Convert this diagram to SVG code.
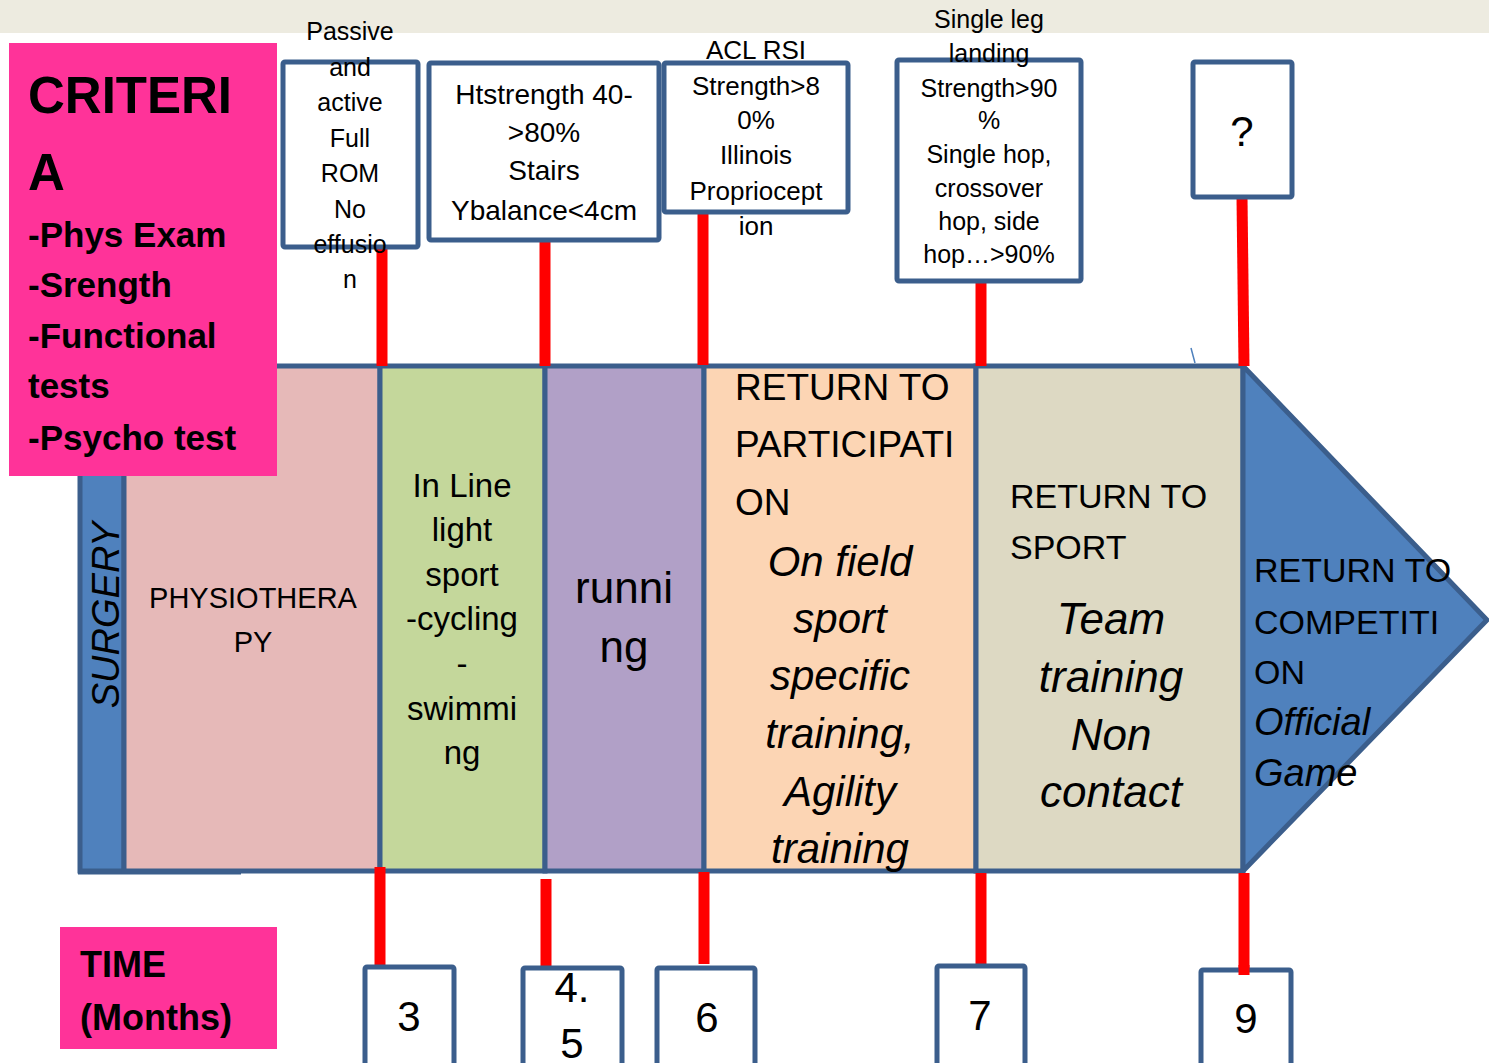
<svg xmlns="http://www.w3.org/2000/svg" width="1489" height="1063" viewBox="0 0 1489 1063">
<style>
text{font-family:"Liberation Sans",Arial,sans-serif;fill:#000}
.c{text-anchor:middle}
.b{font-weight:bold}
.i{font-style:italic}
.col{stroke:#3B5E8C;stroke-width:5}
.box{fill:#fff;stroke:#3B5E8C;stroke-width:5}
.red{stroke:#FF0000;stroke-width:11;fill:none}
</style>
<rect x="0" y="0" width="1489" height="33" fill="#EDEBE0"/>
<g id="band">
<rect id="surgery-col" class="col" x="80" y="366" width="44" height="505" fill="#4F81BD"/>
<line x1="78" y1="872" x2="241" y2="872" stroke="#3B5E8C" stroke-width="5"/>
<rect id="physio-col" class="col" x="124" y="366" width="256" height="505" fill="#E6B9B8"/>
<rect id="light-col" class="col" x="380" y="366" width="165" height="505" fill="#C4D79B"/>
<rect id="run-col" class="col" x="545" y="366" width="159" height="505" fill="#B1A0C7"/>
<rect id="rtp-col" class="col" x="704" y="366" width="272" height="505" fill="#FCD5B4"/>
<rect id="rts-col" class="col" x="976" y="366" width="267" height="505" fill="#DDD9C3"/>
<polygon id="rtc-arrow" class="col" points="1243,366 1487,620 1243,871" fill="#4F81BD"/>
<line x1="1191" y1="348" x2="1195" y2="363" stroke="#4F81BD" stroke-width="1.5"/>
</g>
<g id="connectors">
<line class="red" x1="382" y1="248" x2="382" y2="366"/>
<line class="red" x1="545" y1="240" x2="545" y2="366"/>
<line class="red" x1="703" y1="212" x2="703" y2="365"/>
<line class="red" x1="981" y1="282" x2="981" y2="366"/>
<line class="red" x1="1242" y1="197" x2="1244" y2="366"/>
<line class="red" x1="380" y1="867" x2="380" y2="966"/>
<line class="red" x1="546" y1="879" x2="546" y2="967"/>
<line class="red" x1="704" y1="872" x2="704" y2="964"/>
<line class="red" x1="981" y1="873" x2="981" y2="966"/>
<line class="red" x1="1244" y1="873" x2="1244" y2="975"/>
</g>
<g id="surgery-label"><text class="c i" font-size="38" transform="translate(119,615) rotate(-90)">SURGERY</text></g>
<g id="physio-label"><text class="c" font-size="29"><tspan x="253" y="608">PHYSIOTHERA</tspan><tspan x="253" y="652">PY</tspan></text></g>
<g id="light-label"><text class="c" font-size="33"><tspan x="462" y="497">In Line</tspan><tspan x="462" y="541">light</tspan><tspan x="462" y="586">sport</tspan><tspan x="462" y="630">-cycling</tspan><tspan x="462" y="675">-</tspan><tspan x="462" y="720">swimmi</tspan><tspan x="462" y="764">ng</tspan></text></g>
<g id="run-label"><text class="c" font-size="44"><tspan x="624" y="603">runni</tspan><tspan x="624" y="662">ng</tspan></text></g>
<g id="rtp-label"><text font-size="37"><tspan x="735" y="400">RETURN TO</tspan><tspan x="735" y="457">PARTICIPATI</tspan><tspan x="735" y="515">ON</tspan></text>
<text class="c i" font-size="42"><tspan x="840" y="576">On field</tspan><tspan x="840" y="633">sport</tspan><tspan x="840" y="690">specific</tspan><tspan x="840" y="748">training,</tspan><tspan x="840" y="806">Agility</tspan><tspan x="840" y="863">training</tspan></text></g>
<g id="rts-label"><text font-size="34"><tspan x="1010" y="508">RETURN TO</tspan><tspan x="1010" y="559">SPORT</tspan></text>
<text class="c i" font-size="44"><tspan x="1111" y="634">Team</tspan><tspan x="1111" y="692">training</tspan><tspan x="1111" y="750">Non</tspan><tspan x="1111" y="807">contact</tspan></text></g>
<g id="rtc-label"><text font-size="34"><tspan x="1254" y="582">RETURN TO</tspan><tspan x="1254" y="634">COMPETITI</tspan><tspan x="1254" y="684">ON</tspan></text>
<text class="i" font-size="38"><tspan x="1254" y="735">Official</tspan><tspan x="1254" y="786">Game</tspan></text></g>
<g id="criteria">
<rect x="9" y="43" width="268" height="433" fill="#FF3399"/>
<text class="b" font-size="51"><tspan x="28" y="113">CRITERI</tspan><tspan x="28" y="190">A</tspan></text>
<text class="b" font-size="35"><tspan x="28" y="247">-Phys Exam</tspan><tspan x="28" y="297">-Srength</tspan><tspan x="28" y="348">-Functional</tspan><tspan x="28" y="398">tests</tspan><tspan x="28" y="450">-Psycho test</tspan></text>
</g>
<g id="crit-3">
<rect class="box" x="283" y="62" width="135" height="185" rx="2"/>
<text class="c" font-size="25"><tspan x="350" y="40">Passive</tspan><tspan x="350" y="76">and</tspan><tspan x="350" y="111">active</tspan><tspan x="350" y="147">Full</tspan><tspan x="350" y="182">ROM</tspan><tspan x="350" y="218">No</tspan><tspan x="350" y="253">effusio</tspan><tspan x="350" y="288">n</tspan></text>
</g>
<g id="crit-45">
<rect class="box" x="429" y="63" width="230" height="177" rx="2"/>
<text class="c" font-size="28"><tspan x="544" y="104">Htstrength 40-</tspan><tspan x="544" y="142">&gt;80%</tspan><tspan x="544" y="180">Stairs</tspan><tspan x="544" y="220">Ybalance&lt;4cm</tspan></text>
</g>
<g id="crit-6">
<rect class="box" x="664" y="63" width="184" height="149" rx="2"/>
<text class="c" font-size="26"><tspan x="756" y="59">ACL RSI</tspan><tspan x="756" y="95">Strength&gt;8</tspan><tspan x="756" y="129">0%</tspan><tspan x="756" y="164">Illinois</tspan><tspan x="756" y="200">Propriocept</tspan><tspan x="756" y="235">ion</tspan></text>
</g>
<g id="crit-7">
<rect class="box" x="897" y="60" width="184" height="221" rx="2"/>
<text class="c" font-size="25"><tspan x="989" y="28">Single leg</tspan><tspan x="989" y="62">landing</tspan><tspan x="989" y="97">Strength&gt;90</tspan><tspan x="989" y="129">%</tspan><tspan x="989" y="163">Single hop,</tspan><tspan x="989" y="197">crossover</tspan><tspan x="989" y="230">hop, side</tspan><tspan x="989" y="263">hop…&gt;90%</tspan></text>
</g>
<g id="crit-9">
<rect class="box" x="1193" y="62" width="99" height="135" rx="2"/>
<text class="c" font-size="42" x="1242" y="146">?</text>
</g>
<g id="time">
<rect x="60" y="927" width="217" height="122" fill="#FF3399"/>
<text class="b" font-size="36"><tspan x="80" y="977">TIME</tspan><tspan x="80" y="1030">(Months)</tspan></text>
</g>
<g id="m3"><rect class="box" x="365" y="967" width="89" height="110" rx="2"/><text class="c" font-size="42" x="409" y="1031">3</text></g>
<g id="m45"><rect class="box" x="523" y="968" width="99" height="110" rx="2"/><text class="c" font-size="42"><tspan x="572" y="1002">4.</tspan><tspan x="572" y="1058">5</tspan></text></g>
<g id="m6"><rect class="box" x="657" y="968" width="98" height="110" rx="2"/><text class="c" font-size="42" x="707" y="1032">6</text></g>
<g id="m7"><rect class="box" x="937" y="966" width="88" height="110" rx="2"/><text class="c" font-size="42" x="980" y="1030">7</text></g>
<g id="m9"><rect class="box" x="1201" y="970" width="90" height="110" rx="2"/><text class="c" font-size="42" x="1246" y="1033">9</text></g>
<line class="red" x1="1244" y1="965" x2="1244" y2="975"/>
</svg>
